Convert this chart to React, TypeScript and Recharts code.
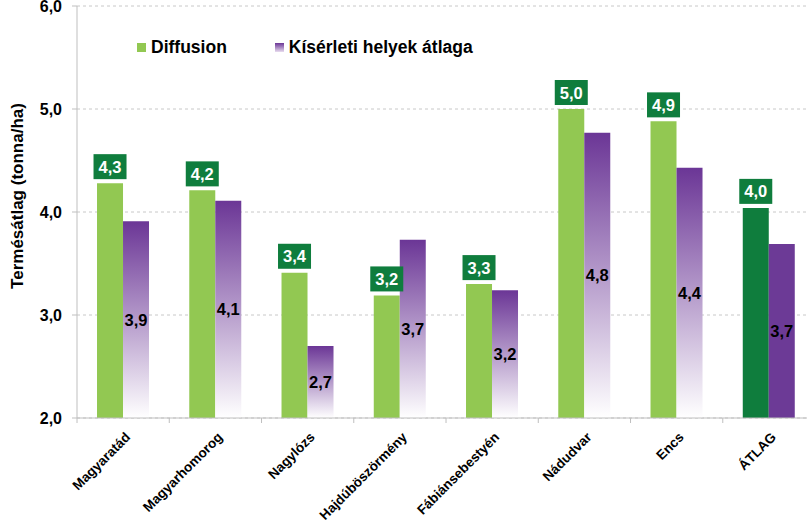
import React from "react";
import { BarChart, Bar, XAxis, YAxis, CartesianGrid, Cell, LabelList, Legend } from "recharts";

const categories = ["Magyaratád", "Magyarhomorog", "Nagylózs", "Hajdúböszörmény", "Fábiánsebestyén", "Nádudvar", "Encs", "ÁTLAG"];
const diffusion = [4.28, 4.21, 3.41, 3.19, 3.3, 5.0, 4.88, 4.04];
const kiserleti = [3.91, 4.11, 2.7, 3.73, 3.24, 4.77, 4.43, 3.69];
const yTicks = [2, 3, 4, 5, 6];
const seriesNames = ["Diffusion", "Kísérleti helyek átlaga"];

const data = categories.map((c, i) => ({ name: c, diffusion: diffusion[i], kiserleti: kiserleti[i] }));

const FONT = "'Liberation Sans', Arial, sans-serif";
const GREEN = "#92C852";
const DARK_GREEN = "#0F7D3D";
const PURPLE = "#6B3696";
const fmt = (v: number) => v.toFixed(1).replace(".", ",");

const GreenLabel = (props: any) => {
  const { x, y, width, value } = props;
  const cx = x + width / 2;
  const bw = 33;
  const bh = 25;
  const top = y - 4 - bh;
  return (
    <g>
      <rect x={cx - bw / 2} y={top} width={bw} height={bh} fill={DARK_GREEN} />
      <text x={cx} y={top + bh / 2 + 6} textAnchor="middle" fill="#fff" fontFamily={FONT} fontWeight="bold" fontSize={16.5}>
        {fmt(value)}
      </text>
    </g>
  );
};

const PurpleLabel = (props: any) => {
  const { x, y, width, height, value } = props;
  return (
    <text x={x + width / 2} y={y + height / 2 + 6} textAnchor="middle" fill="#000" fontFamily={FONT} fontWeight="bold" fontSize={16.5}>
      {fmt(value)}
    </text>
  );
};

const XTick = (props: any) => {
  const { x, y, payload } = props;
  const half = 46.1;
  const tx = x + 8;
  const ty = y + 20;
  const c = Math.SQRT1_2;
  return (
    <g>
      <line x1={x - half} y1={y} x2={x - half} y2={y + 5} stroke="#bfbfbf" />
      <text
        x={0}
        y={0}
        transform={`matrix(${c} ${-c} ${c} ${c} ${tx} ${ty})`}
        textAnchor="end"
        fontFamily={FONT}
        fontWeight="bold"
        fontSize={13.5}
        fill="#000"
      >
        {payload.value}
      </text>
    </g>
  );
};

const LegendContent = () => (
  <div style={{ display: "flex", alignItems: "center", fontFamily: FONT, fontWeight: "bold", fontSize: 17.5, color: "#000", whiteSpace: "nowrap" }}>
    <span style={{ display: "inline-block", width: 9, height: 9, background: GREEN, marginRight: 5 }} />
    <span style={{ marginRight: 48 }}>{seriesNames[0]}</span>
    <span
      style={{
        display: "inline-block",
        width: 9,
        height: 9,
        background: `linear-gradient(${PURPLE}, #e8dcef)`,
        marginRight: 5,
      }}
    />
    <span>{seriesNames[1]}</span>
  </div>
);

const YLabel = () => (
  <text
    x={23}
    y={196}
    transform="rotate(-90, 23, 196)"
    textAnchor="middle"
    fontFamily={FONT}
    fontWeight="bold"
    fontSize={17}
    fill="#000"
  >
    Termésátlag (tonna/ha)
  </text>
);

export default function App() {
  return (
    <div style={{ position: "absolute", left: 0, top: 0, width: 807, height: 526, overflow: "hidden", background: "#fff" }}>
      <BarChart
        width={815}
        height={526}
        data={data}
        margin={{ top: 6, right: 0, left: 0, bottom: 0 }}
        barGap={0}
        barCategoryGap="21.7%"
      >
        <defs>
          <linearGradient id="purpleGrad" x1="0" y1="0" x2="0" y2="1">
            <stop offset="0%" stopColor={PURPLE} />
            <stop offset="100%" stopColor="#ffffff" />
          </linearGradient>
        </defs>
        <CartesianGrid vertical={false} stroke="#c8c8c8" strokeDasharray="3 3" />
        <XAxis
          dataKey="name"
          height={108}
          interval={0}
          stroke="#bfbfbf"
          tickLine={false}
          tickSize={0}
          tickMargin={0}
          tick={<XTick />}
        />
        <YAxis
          width={77}
          domain={[2, 6]}
          ticks={yTicks}
          interval={0}
          allowDataOverflow
          stroke="#bfbfbf"
          tickSize={5}
          tickMargin={10}
          tickFormatter={fmt}
          tick={{ fill: "#000", fontFamily: FONT, fontWeight: "bold", fontSize: 16 }}
          label={<YLabel />}
        />
        <Legend
          verticalAlign="middle"
          align="center"
          layout="horizontal"
          content={<LegendContent />}
          wrapperStyle={{ position: "absolute", top: 37, left: 137, width: "auto" }}
        />
        <Bar dataKey="diffusion" name={seriesNames[0]} fill={GREEN} isAnimationActive={false}>
          {data.map((d, i) => (
            <Cell key={i} fill={i === data.length - 1 ? DARK_GREEN : GREEN} />
          ))}
          <LabelList dataKey="diffusion" content={<GreenLabel />} />
        </Bar>
        <Bar dataKey="kiserleti" name={seriesNames[1]} fill="url(#purpleGrad)" isAnimationActive={false}>
          {data.map((d, i) => (
            <Cell key={i} fill={i === data.length - 1 ? "#6C3A96" : "url(#purpleGrad)"} />
          ))}
          <LabelList dataKey="kiserleti" content={<PurpleLabel />} />
        </Bar>
      </BarChart>
    </div>
  );
}
